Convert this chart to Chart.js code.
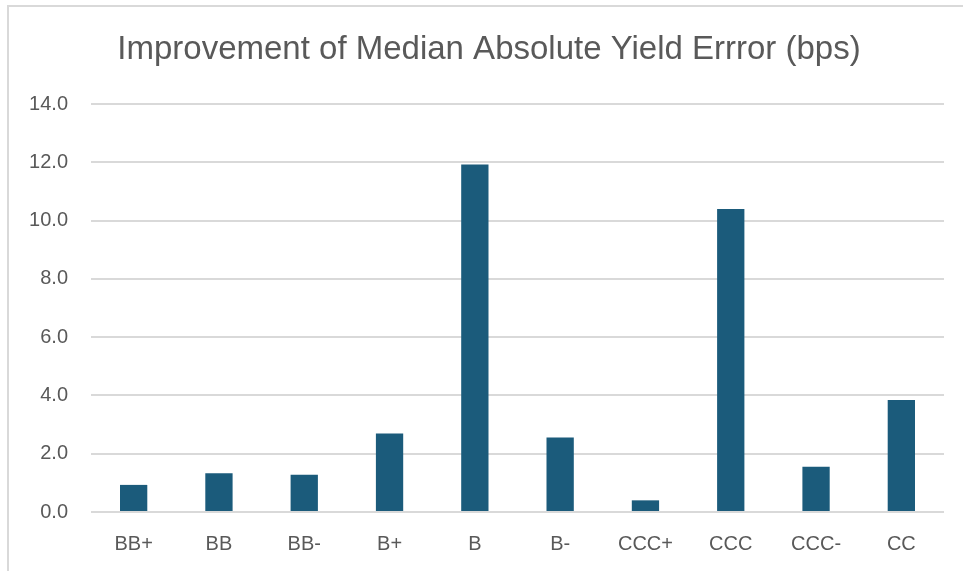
<!DOCTYPE html>
<html>
<head>
<meta charset="utf-8">
<script src="https://cdn.jsdelivr.net/npm/chart.js@4.4.0/dist/chart.umd.min.js"></script>
<style>
  html, body { margin: 0; padding: 0; background: #fff; }
  #wrap { position: relative; width: 963px; height: 571px; overflow: hidden; }
  #frame { position: absolute; left: 7px; top: 5px; width: 980px; height: 600px; border: 2px solid #d9d9d9; box-sizing: border-box; }
  canvas { position: absolute; left: 0; top: 0; }
</style>
</head>
<body>
<div id="wrap">
  <div id="frame"></div>
  <canvas id="chart" width="963" height="571"></canvas>
</div>
<script>
// ratings and improvement in bps
const ratings = ['BB+', 'BB', 'BB-', 'B+', 'B', 'B-', 'CCC+', 'CCC', 'CCC-', 'CC'];
const improvement = [0.93, 1.33, 1.28, 2.69, 11.92, 2.56, 0.40, 10.40, 1.55, 3.84];
const yTicks = [0, 2, 4, 6, 8, 10, 12, 14];
const chartTitle = 'Improvement of Median Absolute Yield Errror (bps)';

const textGray = '#595959';
const barColor = '#1b5b7b';
const tickFont = { family: "'Liberation Sans', Arial, sans-serif", size: 20 };

// title drawn by hand so it sits where the original one does
const titlePlugin = {
    id: 'titleText',
    afterDraw(chart) {
        const ctx = chart.ctx;
        ctx.save();
        ctx.fillStyle = textGray;
        ctx.font = "33px 'Liberation Sans', Arial, sans-serif";
        ctx.textAlign = 'center';
        ctx.textBaseline = 'alphabetic';
        ctx.fillText(chartTitle, 489, 59);
        ctx.restore();
    }
};

new Chart(document.getElementById('chart'), {
    type: 'bar',
    data: {
        labels: ratings,
        datasets: [{
            data: improvement,
            backgroundColor: barColor,
            barPercentage: 1,
            categoryPercentage: 0.32
        }]
    },
    plugins: [titlePlugin],
    options: {
        responsive: false,
        animation: false,
        layout: { padding: { top: 104, left: 27, right: 19, bottom: 0 } },
        plugins: {
            legend: { display: false },
            tooltip: { enabled: false },
            title: { display: false }
        },
        scales: {
            x: {
                afterFit: axis => { axis.height = 59; },
                grid: { display: false, drawTicks: false },
                border: { display: false },
                ticks: { color: textGray, padding: 20, maxRotation: 0, font: tickFont }
            },
            y: {
                min: 0,
                max: 14,
                afterBuildTicks: axis => { axis.ticks = yTicks.map(v => ({ value: v })); },
                afterFit: axis => { axis.width = 64; },
                grid: { color: '#d9d9d9', lineWidth: 2, drawTicks: false },
                border: { display: false },
                ticks: {
                    color: textGray,
                    padding: 23,
                    font: tickFont,
                    callback: v => v.toFixed(1)
                }
            }
        }
    }
});
</script>
</body>
</html>
